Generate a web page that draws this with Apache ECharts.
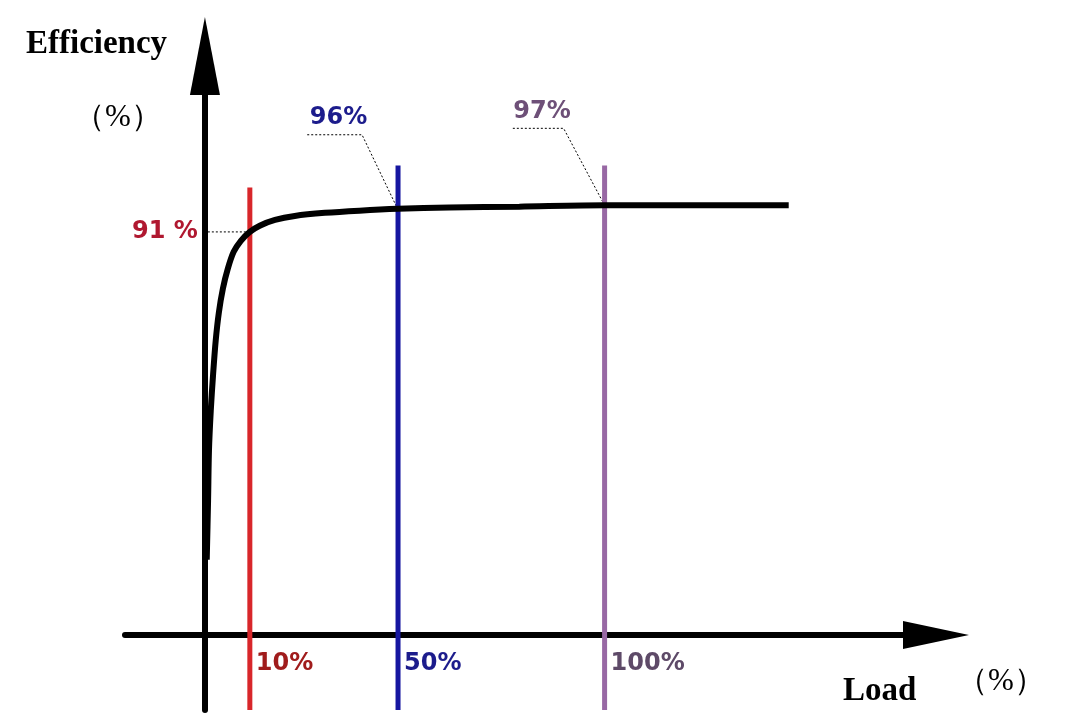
<!DOCTYPE html>
<html>
<head>
<meta charset="utf-8">
<script src="https://cdn.jsdelivr.net/npm/echarts@6/dist/echarts.min.js"></script>
<style>
  html, body { margin: 0; padding: 0; background: #fff; }
  #chart { width: 1065px; height: 719px; }
</style>
</head>
<body>
<div id="chart"></div>
<script>
// efficiency curve (x = load position on the sketch, y = efficiency %)
const curveLoad = [0.4, 0.7, 0.9, 1.3, 1.8, 2.4, 3.1, 4.0, 5.1, 6.4, 8.0, 10, 12.2, 15.6, 20, 26.7, 34.4, 43, 54.4, 70, 89, 110, 130];
const curveEff = [17, 30.4, 41.7, 50.7, 58.6, 66.5, 72.8, 78.2, 82.7, 86.5, 89, 91, 92.4, 93.7, 94.6, 95.3, 95.8, 96.2, 96.5, 96.7, 97, 97, 97];

// marked load points
const markLoad = [10, 43, 89];
const markTop = [101, 106, 106];
const markEff = [91, 96, 97];
const loadLabels = ['10%', '50%', '100%'];
const effLabels = ['91 %', '96%', '97%'];
const markColors = ['#d8262a', '#1616a0', '#9868a4'];
const effTextColors = ['#b01830', '#1c1c8c', '#6e5078'];
const loadTextColors = ['#a01c1c', '#1c1c8c', '#5e4a68'];

const X_MIN = -17.8, X_MAX = 162.8;
const Y_MIN = -16.9, Y_MAX = 130.7;

const chart = echarts.init(document.getElementById('chart'));

const series = [
  {
    name: 'Efficiency',
    type: 'line',
    data: curveLoad.map((x, i) => [x, curveEff[i]]),
    smooth: 0.3,
    showSymbol: false,
    lineStyle: { color: '#000', width: 6 },
    z: 3
  }
];

markLoad.forEach((x, i) => {
  series.push({
    name: loadLabels[i],
    type: 'line',
    data: [[x, Y_MIN], [x, markTop[i]]],
    showSymbol: false,
    lineStyle: { color: markColors[i], width: 5 },
    z: 2
  });
});

chart.setOption({
  animation: false,
  grid: { left: 125, right: 129, top: 56, bottom: 9 },
  xAxis: {
    type: 'value',
    min: X_MIN,
    max: X_MAX,
    axisLine: {
      lineStyle: { color: '#000', width: 6 },
      symbol: ['none', 'triangle'],
      symbolSize: [28, 66]
    },
    axisTick: { show: false },
    axisLabel: { show: false },
    splitLine: { show: false }
  },
  yAxis: {
    type: 'value',
    min: Y_MIN,
    max: Y_MAX,
    axisLine: {
      lineStyle: { color: '#000', width: 6 },
      symbol: ['none', 'triangle'],
      symbolSize: [30, 78]
    },
    axisTick: { show: false },
    axisLabel: { show: false },
    splitLine: { show: false }
  },
  series: series
});

// annotations placed from the data points through the chart's own scales
const px = (x, y) => chart.convertToPixel({ gridIndex: 0 }, [x, y]);
const pctStyle = { fontSize: 24, fontWeight: 'bold', fontFamily: 'DejaVu Sans' };
const serifBold = { fontSize: 33, fontWeight: 'bold', fontFamily: 'Liberation Serif' };
const unitStyle = { fontSize: 31, fontFamily: 'Liberation Serif', align: 'center', verticalAlign: 'middle' };
const graphics = [
  { type: 'text', left: 26, top: 28, style: Object.assign({ text: 'Efficiency', fill: '#000' }, serifBold) },
  { type: 'text', x: 118, y: 118, style: Object.assign({ text: '（%）', fill: '#000' }, unitStyle) },
  { type: 'text', left: 843, top: 675, style: Object.assign({ text: 'Load', fill: '#000' }, serifBold) },
  { type: 'text', x: 1001, y: 682, style: Object.assign({ text: '（%）', fill: '#000' }, unitStyle) }
];

markLoad.forEach((x, i) => {
  const base = px(x, 0);
  graphics.push({
    type: 'text', x: base[0] + 6, y: base[1] + 29,
    style: Object.assign({
      text: loadLabels[i], fill: loadTextColors[i],
      verticalAlign: 'middle', align: 'left'
    }, pctStyle)
  });
});

// 91 %: horizontal dotted leader to the y axis
const a0 = px(markLoad[0], markEff[0]);
graphics.push({
  type: 'polyline',
  shape: { points: [[a0[0], a0[1]], [a0[0] - 42, a0[1]]] },
  style: { stroke: '#000', lineWidth: 1, lineDash: [2, 2] }
});
graphics.push({
  type: 'text', x: a0[0] - 52, y: a0[1],
  style: Object.assign({ text: effLabels[0], fill: effTextColors[0], align: 'right', verticalAlign: 'middle' }, pctStyle)
});

// 96% and 97%: diagonal leader with an underline
[[1, -36, -75, -55], [2, -41, -77, -51]].forEach(([i, dx, dy, ul]) => {
  const a = px(markLoad[i], markEff[i]);
  const k = [a[0] + dx, a[1] + dy];
  graphics.push({
    type: 'polyline',
    shape: { points: [[a[0], a[1]], k, [k[0] + ul, k[1]]] },
    style: { stroke: '#000', lineWidth: 1, lineDash: [2, 2] }
  });
  graphics.push({
    type: 'text', x: k[0] + ul / 2 + 4, y: k[1] - 17,
    style: Object.assign({ text: effLabels[i], fill: effTextColors[i], align: 'center', verticalAlign: 'middle' }, pctStyle)
  });
});

chart.setOption({ graphic: graphics });
</script>
</body>
</html>
